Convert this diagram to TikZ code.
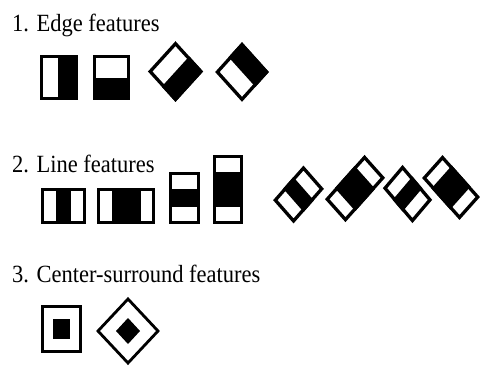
\documentclass[tikz,border=0pt]{standalone}
\usepackage{fontspec}
\setmainfont{Liberation Serif}
\begin{document}
\begin{tikzpicture}[x=1pt,y=1pt,
  featline/.style={line width=3.3pt,draw=black,line join=miter},
  caption/.style={anchor=base west,inner sep=0pt,yscale=1.1,transform shape,
    font=\fontsize{22.5}{24}\selectfont}]
\useasboundingbox (0,0) rectangle (481,-368);
\fill[white] (0,0) rectangle (481,-368);

% #1,#2 centre (y downwards), #3 vertical stretch, #4 rotation,
% #5,#6 half width and half height, #7 black part in local coordinates
\newcommand{\haarfeat}[7]{%
  \begin{scope}[shift={(#1,-#2)},yscale=#3,rotate=#4]
    \fill[black] #7;
    \draw[featline] (-#5+1.6,-#6+1.6) rectangle (#5-1.6,#6-1.6);
  \end{scope}}

% captions
\node[caption] (t1) at (12,-31) {1. Edge features};
\node[caption] (t2) at (12,-172) {2. Line features};
\node[caption] (t3) at (12,-282) {3. Center-surround features};

% edge features
\haarfeat{59}{77.5}{1}{0}{19}{22.5}{(-1,-22.5) rectangle (19,22.5)}
\haarfeat{111.5}{77.5}{1}{0}{18.5}{22.5}{(-18.5,-22.5) rectangle (18.5,0)}
\haarfeat{175.5}{71.5}{1.1}{-45}{19.5}{19.5}{(0,-19.5) rectangle (19.5,19.5)}
\haarfeat{242}{72}{1.11}{45}{19}{19}{(0,-19) rectangle (19,19)}

% line features, upright
\haarfeat{63.5}{206}{1}{0}{22.5}{18}{(-7.5,-18) rectangle (7.5,18)}
\haarfeat{126}{206}{1}{0}{29}{18}{(-14.5,-18) rectangle (14.5,18)}
\haarfeat{184.5}{198}{1}{0}{15.5}{26}{(-15.5,-8.7) rectangle (15.5,8.7)}
\haarfeat{228}{189.5}{1}{0}{15}{34.5}{(-15,-17.5) rectangle (15,17.5)}

% line features, tilted
\haarfeat{298.5}{194.5}{1.14}{45}{21.5}{14.5}{(-7.2,-14.5) rectangle (7.2,14.5)}
\haarfeat{355}{188.5}{1.12}{45}{28}{14.5}{(-14,-14.5) rectangle (14,14.5)}
\haarfeat{407.5}{194}{1.18}{-45}{21}{14}{(-7,-14) rectangle (7,14)}
\haarfeat{451}{187.5}{1.12}{-45}{26.5}{14.5}{(-13.25,-14.5) rectangle (13.25,14.5)}

% center-surround features
\draw[featline] (41+1.6,-305-1.6) rectangle (82-1.6,-353+1.6);
\fill[black] (53,-319) rectangle (70,-339);
\draw[featline,line width=2.8pt] (128,-299) -- (158,-331) -- (128,-363) -- (98,-331) -- cycle;
\fill[black] (128,-318) -- (140,-331) -- (128,-344) -- (116,-331) -- cycle;
\end{tikzpicture}
\end{document}
